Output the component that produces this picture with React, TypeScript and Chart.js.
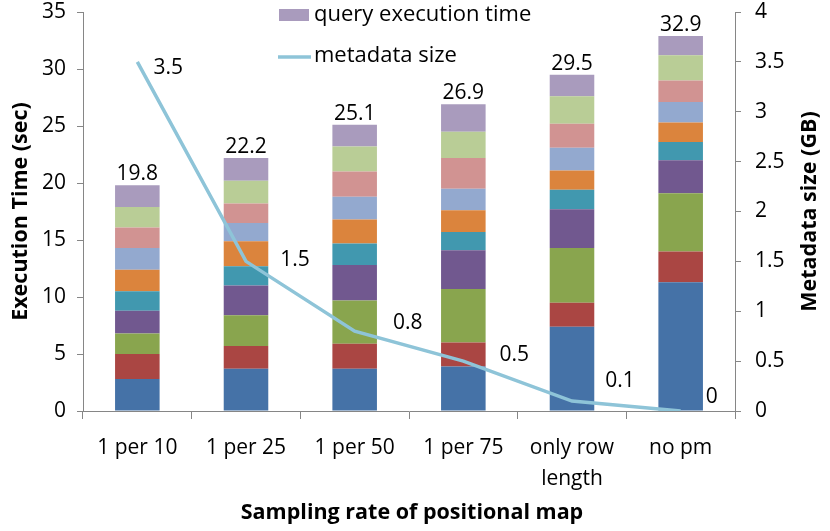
import React, { useEffect, useRef } from 'react';
import { Chart, registerables } from 'chart.js';
Chart.register(...registerables);

const categories: (string | string[])[] = ['1 per 10', '1 per 25', '1 per 50', '1 per 75', ['only row', 'length'], 'no pm'];

// stacked query execution time parts (sec), bottom to top
const q1 = [2.8, 3.7, 3.7, 3.9, 7.4, 11.3];
const q2 = [2.2, 2.0, 2.2, 2.1, 2.1, 2.7];
const q3 = [1.8, 2.7, 3.8, 4.7, 4.8, 5.1];
const q4 = [2.0, 2.6, 3.1, 3.4, 3.4, 2.9];
const q5 = [1.7, 1.7, 1.9, 1.6, 1.7, 1.6];
const q6 = [1.9, 2.2, 2.1, 1.9, 1.7, 1.7];
const q7 = [1.9, 1.6, 2.0, 1.9, 2.0, 1.8];
const q8 = [1.8, 1.7, 2.2, 2.7, 2.1, 1.9];
const q9 = [1.8, 2.0, 2.2, 2.3, 2.4, 2.2];
const q10 = [1.9, 2.0, 1.9, 2.4, 1.9, 1.7];

const metadataSize = [3.5, 1.5, 0.8, 0.5, 0.1, 0];

const barSeries = [q1, q2, q3, q4, q5, q6, q7, q8, q9, q10];
const barColors = ['#4572A7', '#AA4643', '#89A54E', '#71588F', '#4198AF', '#DB843D', '#93A9CF', '#D19392', '#B9CD96', '#A99BBD'];
const lineColor = '#8EC4D8';

const FONT = '"Open Sans", sans-serif';
const FS = 21;
const lineLabelOffsets = [[31, 6], [49, -1], [53, -8], [51, -6], [48, -20], [31, -14]];

const labelPlugin = {
  id: 'customLabels',
  afterDatasetsDraw(chart: any) {
    const ctx = chart.ctx as CanvasRenderingContext2D;
    const area = chart.chartArea;
    ctx.save();
    ctx.fillStyle = '#000';
    ctx.font = `${FS}px ${FONT}`;
    ctx.textAlign = 'center';
    ctx.textBaseline = 'alphabetic';
    const lastMeta = chart.getDatasetMeta(barSeries.length - 1);
    lastMeta.data.forEach((el: any, i: number) => {
      const total = barSeries.reduce((s, a) => s + a[i], 0);
      ctx.fillText(total.toFixed(1), el.x, el.y - 5);
    });
    const lineMeta = chart.getDatasetMeta(barSeries.length);
    ctx.textBaseline = 'middle';
    lineMeta.data.forEach((el: any, i: number) => {
      const [dx, dy] = lineLabelOffsets[i];
      ctx.fillText(String(metadataSize[i]), el.x + dx, el.y + dy);
    });

    // legend
    ctx.textAlign = 'left';
    ctx.fillStyle = barColors[9];
    ctx.fillRect(279, 9, 30, 12);
    ctx.strokeStyle = lineColor;
    ctx.lineWidth = 3.5;
    ctx.beginPath();
    ctx.moveTo(278, 57);
    ctx.lineTo(311, 57);
    ctx.stroke();
    ctx.fillStyle = '#000';
    ctx.font = `${FS + 1}px ${FONT}`;
    ctx.fillText('query execution time', 314, 15);
    ctx.fillText('metadata size', 314, 56);

    // axis titles
    ctx.font = `bold ${FS + 0.5}px ${FONT}`;
    ctx.textAlign = 'center';
    const midY = (area.top + area.bottom) / 2;
    ctx.save();
    ctx.translate(21, midY);
    ctx.rotate(-Math.PI / 2);
    ctx.fillText('Execution Time (sec)', 0, 0);
    ctx.restore();
    ctx.save();
    ctx.translate(810, midY);
    ctx.rotate(-Math.PI / 2);
    ctx.fillText('Metadata size (GB)', 0, 0);
    ctx.restore();
    ctx.fillText('Sampling rate of positional map', (area.left + area.right) / 2 + 3, 513);
    ctx.restore();
  },
};

export default function App() {
  const ref = useRef<HTMLCanvasElement | null>(null);
  useEffect(() => {
    document.body.style.margin = '0';
    if (!ref.current) return;
    const datasets: any[] = barSeries.map((d, i) => ({
      type: 'bar',
      label: i === 9 ? 'query execution time' : `query ${i + 1}`,
      data: d,
      backgroundColor: barColors[i],
      borderWidth: 0,
      stack: 's',
      yAxisID: 'y',
      order: 1,
      categoryPercentage: 1,
      barPercentage: 0.41,
    }));
    datasets.push({
      type: 'line',
      label: 'metadata size',
      data: metadataSize,
      borderColor: lineColor,
      borderWidth: 3.5,
      pointRadius: 0,
      tension: 0,
      yAxisID: 'y1',
      order: 0,
    });
    const tickColor = '#000';
    const axisColor = '#868686';
    const fitV = (w: number) => (s: any) => { s.width = w; s.paddingTop = 0; s.paddingBottom = 0; };
    const chart = new Chart(ref.current, {
      type: 'bar',
      data: { labels: categories as any, datasets },
      options: {
        responsive: false,
        animation: false,
        layout: { autoPadding: false, padding: { top: 12, left: 0, right: 0, bottom: 0 } },
        plugins: { legend: { display: false }, tooltip: { enabled: false } },
        scales: {
          x: {
            stacked: true,
            grid: { offset: true, drawOnChartArea: false, tickLength: 8, color: axisColor },
            border: { color: axisColor },
            ticks: { color: tickColor, font: { family: FONT, size: FS, lineHeight: 1.45 }, padding: 14, maxRotation: 0, autoSkip: false },
            afterFit: (s: any) => { s.height = 120; s.paddingLeft = 0; s.paddingRight = 0; },
          },
          y: {
            stacked: true,
            position: 'left',
            min: 0,
            max: 35,
            ticks: { stepSize: 5, color: tickColor, font: { family: FONT, size: FS }, padding: 11 },
            grid: { drawOnChartArea: false, tickLength: 6, color: axisColor },
            border: { color: axisColor },
            afterFit: fitV(83),
          },
          y1: {
            position: 'right',
            min: 0,
            max: 4,
            ticks: { stepSize: 0.5, color: tickColor, font: { family: FONT, size: FS }, padding: 14, callback: (v: any) => String(v) },
            grid: { drawOnChartArea: false, tickLength: 6, color: axisColor },
            border: { color: axisColor },
            afterFit: fitV(95),
          },
        },
      } as any,
      plugins: [labelPlugin],
    });
    return () => chart.destroy();
  }, []);
  return (
    <div style={{ width: 830, height: 531 }}>
      <canvas ref={ref} width={830} height={531} style={{ display: 'block' }} />
    </div>
  );
}
